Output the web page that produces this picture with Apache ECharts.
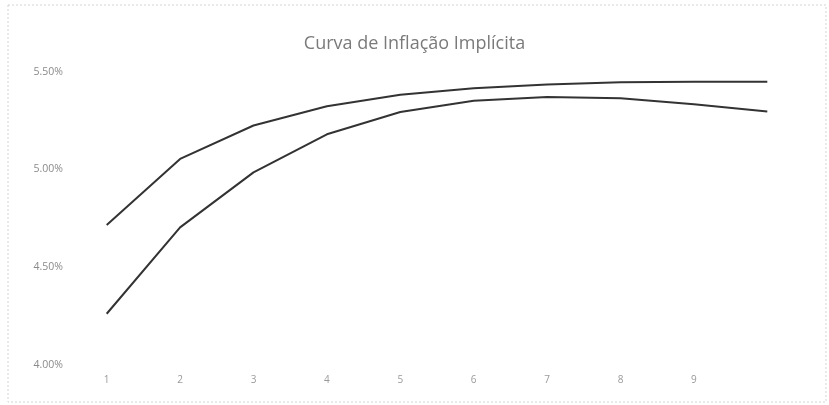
<!DOCTYPE html>
<html>
<head>
<meta charset="utf-8">
<script src="https://cdn.jsdelivr.net/npm/echarts@6/dist/echarts.min.js"></script>
<style>
html,body{margin:0;padding:0;background:#fff;}
#chart{width:829px;height:405px;}
</style>
</head>
<body>
<div id="chart"></div>
<script>
const titleText = 'Curva de Inflação Implícita';
const categories = ['1','2','3','4','5','6','7','8','9','10'];
const shownLabels = ['1','2','3','4','5','6','7','8','9',''];
const upperCurve = [4.716, 5.054, 5.225, 5.323, 5.382, 5.415, 5.435, 5.446, 5.449, 5.449];
const lowerCurve = [4.262, 4.704, 4.985, 5.180, 5.294, 5.351, 5.371, 5.364, 5.334, 5.296];
const yTicks = [4.0, 4.5, 5.0, 5.5];

const chart = echarts.init(document.getElementById('chart'));
chart.setOption({
  animation: false,
  backgroundColor: '#fff',
  title: {
    text: titleText,
    left: 'center',
    top: 30,
    textStyle: {fontFamily: 'Open Sans', fontWeight: 'normal', fontSize: 18, color: '#7a7a7a'}
  },
  graphic: [{
    type: 'rect',
    shape: {x: 8, y: 5, width: 818, height: 397},
    style: {fill: 'none', stroke: '#d4d4d4', lineWidth: 1, lineDash: [2, 2]},
    silent: true
  }],
  grid: {left: 70, right: 25, top: 71.7, bottom: 40},
  xAxis: {
    type: 'category',
    data: categories,
    boundaryGap: true,
    axisLine: {show: false},
    axisTick: {show: false},
    axisLabel: {
      margin: 10,
      fontFamily: 'Open Sans', fontSize: 10, color: '#9a9a9a',
      formatter: (v, i) => shownLabels[i]
    }
  },
  yAxis: {
    type: 'value',
    min: yTicks[0], max: yTicks[yTicks.length - 1], interval: 0.5,
    axisLine: {show: false},
    axisTick: {show: false},
    splitLine: {show: false},
    axisLabel: {
      margin: 7,
      fontFamily: 'Open Sans', fontSize: 10.5, color: '#8a8a8a',
      formatter: v => v.toFixed(2) + '%'
    }
  },
  series: [
    {type: 'line', data: upperCurve, symbol: 'none', lineStyle: {color: '#333333', width: 2}},
    {type: 'line', data: lowerCurve, symbol: 'none', lineStyle: {color: '#333333', width: 2}}
  ]
});
</script>
</body>
</html>
